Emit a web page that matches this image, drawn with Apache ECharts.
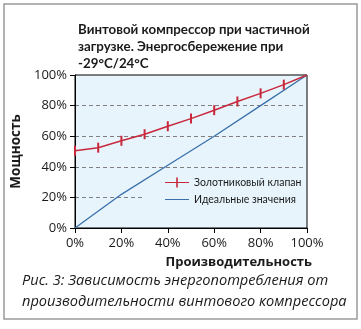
<!DOCTYPE html>
<html>
<head>
<meta charset="utf-8">
<script src="https://cdn.jsdelivr.net/npm/echarts@6/dist/echarts.min.js"></script>
<style>
  html, body { margin: 0; padding: 0; background: #fff; }
  #chart { width: 361px; height: 329px; }
</style>
</head>
<body>
<div id="chart"></div>
<script>
// данные графика
var valveX = [0, 10, 20, 30, 40, 50, 60, 70, 80, 90, 100];
var valveY = [50.5, 52.5, 57, 61.3, 66.5, 71.5, 77, 82.7, 88, 93.7, 100];
var idealX = [0, 20, 40, 60, 80, 100];
var idealY = [0, 22, 41, 60, 80, 100];

var seriesNames = ['Золотниковый клапан', 'Идеальные значения'];
var titleText = 'Винтовой компрессор при частичной\nзагрузке. Энергосбережение при\n-29°C/24°C';
var captionText = 'Рис. 3: Зависимость энергопотребления от\nпроизводительности винтового компрессора';

// последняя точка клапана без маркера
function valveData() {
    return valveX.map(function (x, i) {
        var item = { value: [x, valveY[i]] };
        if (i == valveX.length - 1) item.symbol = 'none';
        return item;
    });
}

function pairs(xs, ys) {
    return xs.map(function (x, i) { return [x, ys[i]]; });
}

var font = '"Open Sans", "Noto Sans", sans-serif';
var narrowFont = 'Lato, "Open Sans", sans-serif';
var plotBg = '#e7f4fc';
var chart = echarts.init(document.getElementById('chart'));

chart.setOption({
    backgroundColor: '#fff',
    animation: false,
    title: {
        text: titleText,
        left: 73, top: 16,
        textStyle: { fontFamily: narrowFont, fontSize: 13.3, fontWeight: 'bold', color: '#1a1a1a', lineHeight: 17 }
    },
    graphic: [
        { type: 'rect', shape: { x: 4, y: 4, width: 353, height: 315 },
          style: { fill: null, stroke: '#9a9a9a', lineWidth: 1.5 }, z: 100 },
        { type: 'text', left: 22, top: 270,
          style: { text: captionText, font: 'italic 14.6px ' + font, fill: '#1a1a1a', lineHeight: 21 } }
    ],
    grid: { left: 75, right: 54, top: 75, bottom: 101, show: true, backgroundColor: plotBg, borderColor: '#000', borderWidth: 1 },
    legend: {
        left: 143, top: 174, orient: 'vertical', itemGap: 6,
        padding: [3, 4, 4, 22],
        backgroundColor: plotBg, z: 1,
        itemWidth: 24, itemHeight: 10,
        textStyle: { fontFamily: narrowFont, fontSize: 10.5, color: '#1a1a1a' },
        data: [
            { name: seriesNames[0], icon: 'path://M0,4.4H24V5.6H0Z M11.2,0H12.8V10H11.2Z' },
            { name: seriesNames[1], icon: 'path://M0,4.4H24V5.6H0Z M0,0H0.01V0.01H0Z M23.99,9.99H24V10H23.99Z' }
        ]
    },
    xAxis: {
        type: 'value', min: 0, max: 100, interval: 20,
        name: 'Производительность', nameLocation: 'end', nameGap: 5,
        nameTextStyle: { fontFamily: font, fontSize: 13, fontWeight: 'bold', color: '#1a1a1a',
                         align: 'right', verticalAlign: 'top', padding: [28, 0, 0, 0] },
        axisLine: { lineStyle: { color: '#000' } },
        axisTick: { show: true, length: 5, lineStyle: { color: '#000' } },
        axisLabel: { formatter: '{value}%', fontFamily: font, fontSize: 13, color: '#1a1a1a', margin: 9 },
        splitLine: { show: false }
    },
    yAxis: {
        type: 'value', min: 0, max: 100, interval: 20,
        name: 'Мощность', nameLocation: 'middle', nameGap: 37,
        nameTextStyle: { fontFamily: font, fontSize: 13.5, fontWeight: 'bold', color: '#1a1a1a' },
        axisLine: { lineStyle: { color: '#000' } },
        axisTick: { show: true, length: 5, lineStyle: { color: '#000' } },
        axisLabel: { formatter: '{value}%', fontFamily: font, fontSize: 13, color: '#1a1a1a', margin: 8 },
        splitLine: {
            show: true,
            showMinLine: false, showMaxLine: false,
            lineStyle: { color: '#7f7f7f', type: [4, 3], width: 1 }
        }
    },
    series: [
        {
            name: seriesNames[0], type: 'line', z: 3,
            data: valveData(),
            symbol: 'rect', symbolSize: [2, 10],
            itemStyle: { color: '#c8283c' },
            lineStyle: { color: '#c8283c', width: 1.5 }
        },
        {
            name: seriesNames[1], type: 'line', z: 2,
            data: pairs(idealX, idealY),
            symbol: 'none',
            itemStyle: { color: '#3a70aa' },
            lineStyle: { color: '#3a70aa', width: 1.3 }
        }
    ]
});
</script>
</body>
</html>
